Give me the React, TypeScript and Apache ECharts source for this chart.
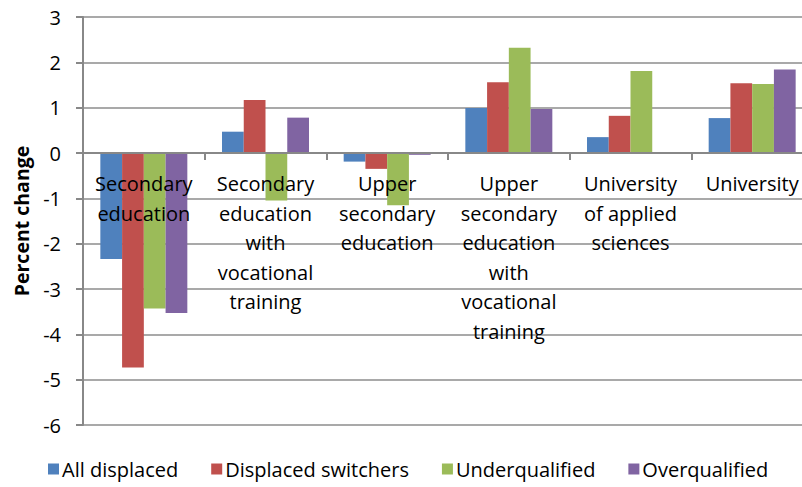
import React, { useEffect, useRef } from "react";
import * as echarts from "echarts";

const categories = [
  "Secondary\neducation",
  "Secondary\neducation\nwith\nvocational\ntraining",
  "Upper\nsecondary\neducation",
  "Upper\nsecondary\neducation\nwith\nvocational\ntraining",
  "University\nof applied\nsciences",
  "University",
];
const allDisplaced = [-2.34, 0.47, -0.19, 0.99, 0.35, 0.77];
const displacedSwitchers = [-4.73, 1.17, -0.35, 1.56, 0.82, 1.54];
const underqualified = [-3.43, -1.05, -1.15, 2.32, 1.81, 1.52];
const overqualified = [-3.53, 0.78, -0.04, 0.97, null, 1.84];
const seriesNames = ["All displaced", "Displaced switchers", "Underqualified", "Overqualified"];
const colors = ["#4F81BD", "#C0504D", "#9BBB59", "#8064A2"];

const FONT = "'Open Sans', 'Noto Sans', sans-serif";
const Y_MIN = -6;
const Y_MAX = 3;
const GRID_TOP = 17;
const GRID_HEIGHT = 408;

export default function App() {
  const ref = useRef<HTMLDivElement>(null);
  useEffect(() => {
    if (!ref.current) return;
    const chart = echarts.init(ref.current, null, { renderer: "svg" });
    const data = [allDisplaced, displacedSwitchers, underqualified, overqualified];
    const zeroOffset = (GRID_HEIGHT * (0 - Y_MIN)) / (Y_MAX - Y_MIN);
    chart.setOption({
      animation: false,
      textStyle: { fontFamily: FONT },
      grid: { left: 83, top: GRID_TOP, width: 730, height: GRID_HEIGHT, containLabel: false, outerBoundsMode: "none" },
      legend: {
        bottom: 3,
        left: 43,
        itemWidth: 11,
        itemHeight: 11,
        itemGap: 33,
        icon: "rect",
        textStyle: { fontSize: 20, color: "#000", fontFamily: FONT, padding: [0, 0, 0, -2] },
        data: seriesNames,
      },
      xAxis: {
        type: "category",
        data: categories,
        offset: -zeroOffset,
        axisLine: { show: true, onZero: false, lineStyle: { color: "#888", width: 2 } },
        axisTick: { show: true, alignWithLabel: false, length: 7, lineStyle: { color: "#888", width: 2 } },
        axisLabel: {
          interval: 0,
          fontSize: 20,
          lineHeight: 29.5,
          color: "#000",
          margin: 16,
          fontFamily: FONT,
          hideOverlap: false,
        },
        z: 5,
      },
      yAxis: {
        type: "value",
        min: Y_MIN,
        max: Y_MAX,
        interval: 1,
        name: "Percent change",
        nameLocation: "middle",
        nameGap: 52,
        nameTextStyle: { fontSize: 19.5, fontWeight: "bold", color: "#000", fontFamily: FONT },
        axisLine: { show: true, lineStyle: { color: "#888", width: 2 } },
        axisTick: { show: true, length: 7, lineStyle: { color: "#888", width: 2 } },
        axisLabel: { fontSize: 20, color: "#000", margin: 22, fontFamily: FONT },
        splitLine: { show: true, lineStyle: { color: "#8c8c8c", width: 1.5 } },
      },
      series: seriesNames.map((name, i) => ({
        name,
        type: "bar",
        data: data[i],
        barGap: "0%",
        barCategoryGap: "28.5%",
        itemStyle: { color: colors[i] },
      })),
    });
    return () => chart.dispose();
  }, []);
  return (
    <div
      ref={ref}
      style={{ position: "absolute", left: 0, top: 0, width: 802, height: 487, overflow: "hidden" }}
    />
  );
}
